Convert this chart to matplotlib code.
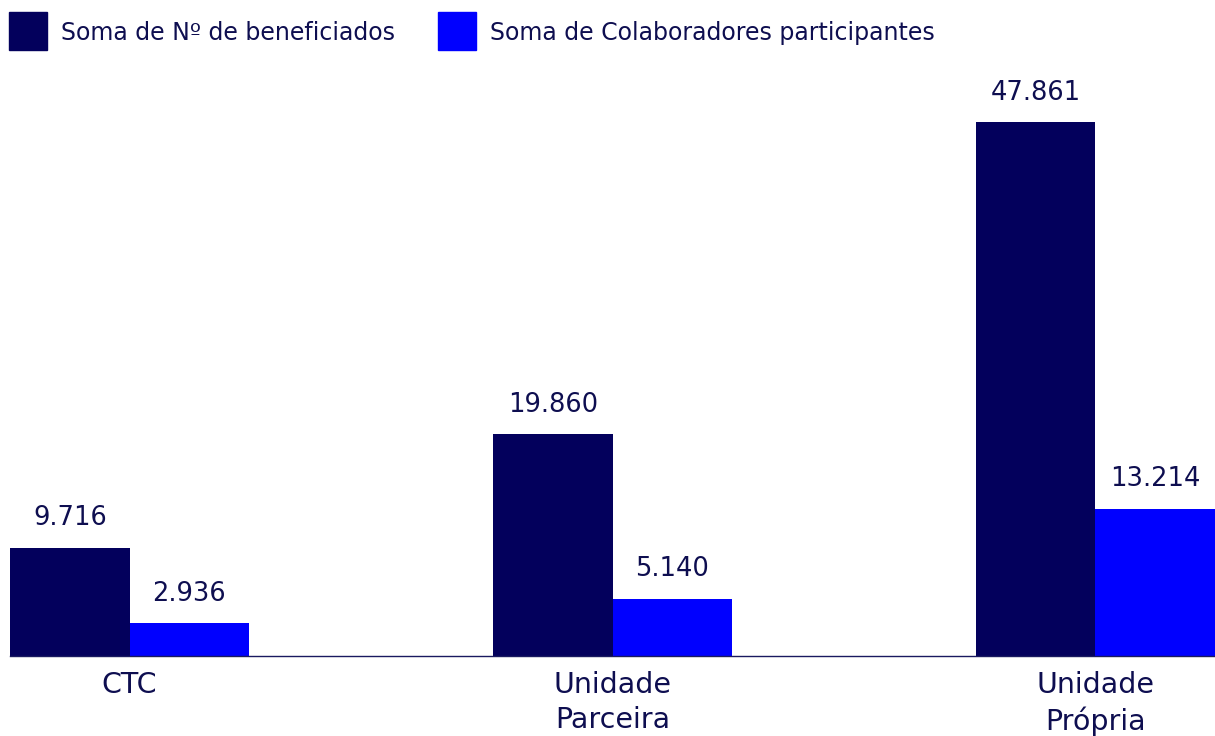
import matplotlib
matplotlib.use("Agg")
import matplotlib.pyplot as plt
import numpy as np
from matplotlib.patches import Rectangle

plt.rcParams['font.family'] = ['DejaVu Sans']

categories = ["CTC", "Unidade\nParceira", "Unidade\nPrópria"]
beneficiados = [9716, 19860, 47861]
colaboradores = [2936, 5140, 13214]
series_names = ["Soma de Nº de beneficiados", "Soma de Colaboradores participantes"]

DARK = "#03005C"
BLUE = "#0000FF"
TEXT = "#0E0E50"

def fmt(v):
    return f"{v:,}".replace(",", ".")

W, H = 1215, 736
fig = plt.figure(figsize=(W / 100, H / 100), dpi=100)
ax = fig.add_axes([10 / W, 1 - 656 / H, 1 - 10 / W, (656 - 80) / H])

x = np.arange(len(categories))
bw = 120 / 485
b1 = ax.bar(x - bw / 2, beneficiados, bw, color=DARK, label=series_names[0])
b2 = ax.bar(x + bw / 2, colaboradores, bw, color=BLUE, label=series_names[1])

ax.set_xlim(-bw, len(categories) - 1 + bw)
ax.set_ylim(0, max(beneficiados) * 576 / 534)

for bars, vals in ((b1, beneficiados), (b2, colaboradores)):
    for rect, v in zip(bars, vals):
        ax.annotate(fmt(v), (rect.get_x() + rect.get_width() / 2, v),
                    xytext=(0, 16), textcoords="offset points",
                    ha="center", va="baseline", fontsize=18.5, color=TEXT)

for s in ("top", "right", "left"):
    ax.spines[s].set_visible(False)
ax.spines["bottom"].set_color("#1A1A60")
ax.spines["bottom"].set_linewidth(1.0)
ax.set_yticks([])
ax.set_xticks(x)
ax.set_xticklabels(categories, fontsize=20.5, color=TEXT, linespacing=1.3)
ax.tick_params(axis="x", length=0, pad=11)

# legend: colour squares with series names, laid out in pixel coordinates
legend_items = [(9, DARK, series_names[0]), (438, BLUE, series_names[1])]
for px, col, name in legend_items:
    fig.patches.append(Rectangle((px / W, 1 - 50 / H), 38 / W, 38 / H,
                                 transform=fig.transFigure, color=col))
    fig.text((px + 52) / W, 1 - 33 / H, name, fontsize=17, color=TEXT,
             ha="left", va="center")

fig.savefig("out.png", dpi=100)
